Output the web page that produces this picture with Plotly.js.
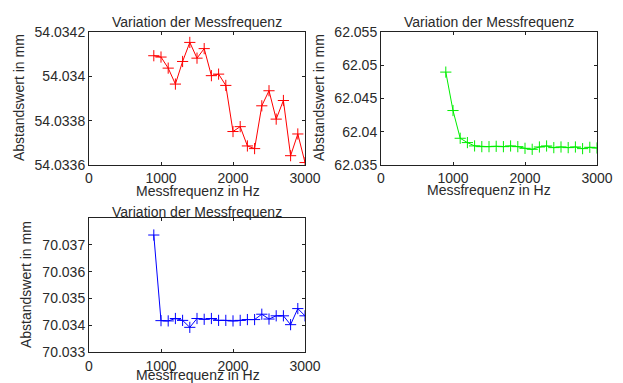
<!DOCTYPE html>
<html>
<head>
<meta charset="utf-8">
<script src="https://cdn.plot.ly/plotly-3.0.1.min.js"></script>
<style>html,body{margin:0;padding:0;background:#fff;}#chart{width:623px;height:383px;}</style>
</head>
<body>
<div id="chart"></div>
<script>
// Data
const frequenz = [900,1000,1100,1200,1300,1400,1500,1600,1700,1800,1900,2000,2100,2200,2300,2400,2500,2600,2700,2800,2900,3000];
const abstand54 = [54.034093,54.034087,54.034037,54.033965,54.034067,54.034153,54.034082,54.034125,54.034003,54.034010,54.033959,54.033751,54.033773,54.033686,54.033674,54.033867,54.033935,54.033807,54.033891,54.033642,54.033740,54.033611];
const abstand62 = [62.04897,62.04319,62.03902,62.03837,62.03787,62.03776,62.03776,62.03781,62.03776,62.03786,62.03776,62.03751,62.03736,62.03771,62.03786,62.03761,62.03771,62.03761,62.03771,62.03746,62.03766,62.03756];
const abstand70 = [70.037365,70.03417,70.03416,70.03425,70.03418,70.03392,70.03425,70.03422,70.03425,70.03418,70.03418,70.03416,70.03418,70.03421,70.03421,70.03441,70.03423,70.03435,70.03435,70.03402,70.03462,70.03435];

const xTicks = [0,1000,2000,3000];
const y1Ticks = [54.0336,54.0338,54.034,54.0342];
const y1Text = ['54.0336','54.0338','54.034','54.0342'];
const y2Ticks = [62.035,62.04,62.045,62.05,62.055];
const y2Text = ['62.035','62.04','62.045','62.05','62.055'];
const y3Ticks = [70.033,70.034,70.035,70.036,70.037];
const y3Text = ['70.033','70.034','70.035','70.036','70.037'];

const titleText = 'Variation der Messfrequenz';
const xTitle = 'Messfrequenz in Hz';
const yTitle = 'Abstandswert in mm';

const W = 623, H = 383;
const px = x => x / W;
const py = y => 1 - y / H;

const font = {family: 'Liberation Sans, Arial, sans-serif', size: 14, color: '#2a2a2a'};

function mk(x, y, color, xa, ya) {
  return {
    x: x, y: y, xaxis: xa, yaxis: ya, type: 'scatter', mode: 'lines+markers',
    line: {color: color, width: 1},
    marker: {symbol: 'cross-thin-open', size: 8, line: {color: color, width: 1}, color: color},
    hoverinfo: 'x+y', showlegend: false
  };
}

const data = [
  mk(frequenz, abstand54, '#ff0000', 'x', 'y'),
  mk(frequenz, abstand62, '#00ee00', 'x2', 'y2'),
  mk(frequenz, abstand70, '#0000ff', 'x3', 'y3')
];

function xax(dom, anchor, standoff) {
  return {domain: dom, anchor: anchor, range: [0, 3000], tickvals: xTicks, ticktext: xTicks.map(String),
    ticks: 'inside', ticklen: 3, tickcolor: '#222', showline: true, linecolor: '#222', linewidth: 1,
    mirror: 'ticks', showgrid: false, zeroline: false, tickfont: font, fixedrange: true,
    ticklabelstandoff: standoff || 0};
}
function yax(dom, anchor, range, tv, tt) {
  return {domain: dom, anchor: anchor, range: range, tickvals: tv, ticktext: tt,
    ticks: 'inside', ticklen: 3, tickcolor: '#222', showline: true, linecolor: '#222', linewidth: 1,
    mirror: 'ticks', showgrid: false, zeroline: false, tickfont: font, fixedrange: true};
}

const d1x = [px(89), px(305)], d2x = [px(381), px(597)];
const dTop = [py(165), py(32)], dBot = [py(352), py(218)];

function ann(text, x, y, angle) {
  return {text: text, xref: 'paper', yref: 'paper', x: px(x), y: py(y), xanchor: 'center', yanchor: 'middle',
    showarrow: false, font: font, textangle: angle || 0};
}

const layout = {
  width: W, height: H,
  margin: {l: 0, r: 0, t: 0, b: 0},
  paper_bgcolor: '#fff', plot_bgcolor: '#fff',
  font: font,
  xaxis: xax(d1x, 'y'),
  yaxis: yax(dTop, 'x', [54.0336, 54.0342], y1Ticks, y1Text),
  xaxis2: xax(d2x, 'y2'),
  yaxis2: yax(dTop, 'x2', [62.035, 62.055], y2Ticks, y2Text),
  xaxis3: xax(d1x, 'y3', 1),
  yaxis3: yax(dBot, 'x3', [70.033, 70.038], y3Ticks, y3Text),
  annotations: [
    ann(titleText, 197, 21.5),
    ann(titleText, 489, 21.5),
    ann(titleText, 197, 212),
    ann(xTitle, 198, 190.5),
    ann(xTitle, 489, 190),
    ann(xTitle, 198, 375),
    ann(yTitle, 19, 98, -90),
    ann(yTitle, 319, 98, -90),
    ann(yTitle, 26, 285, -90)
  ]
};

Plotly.newPlot('chart', data, layout, {staticPlot: true, displayModeBar: false});
</script>
</body>
</html>
